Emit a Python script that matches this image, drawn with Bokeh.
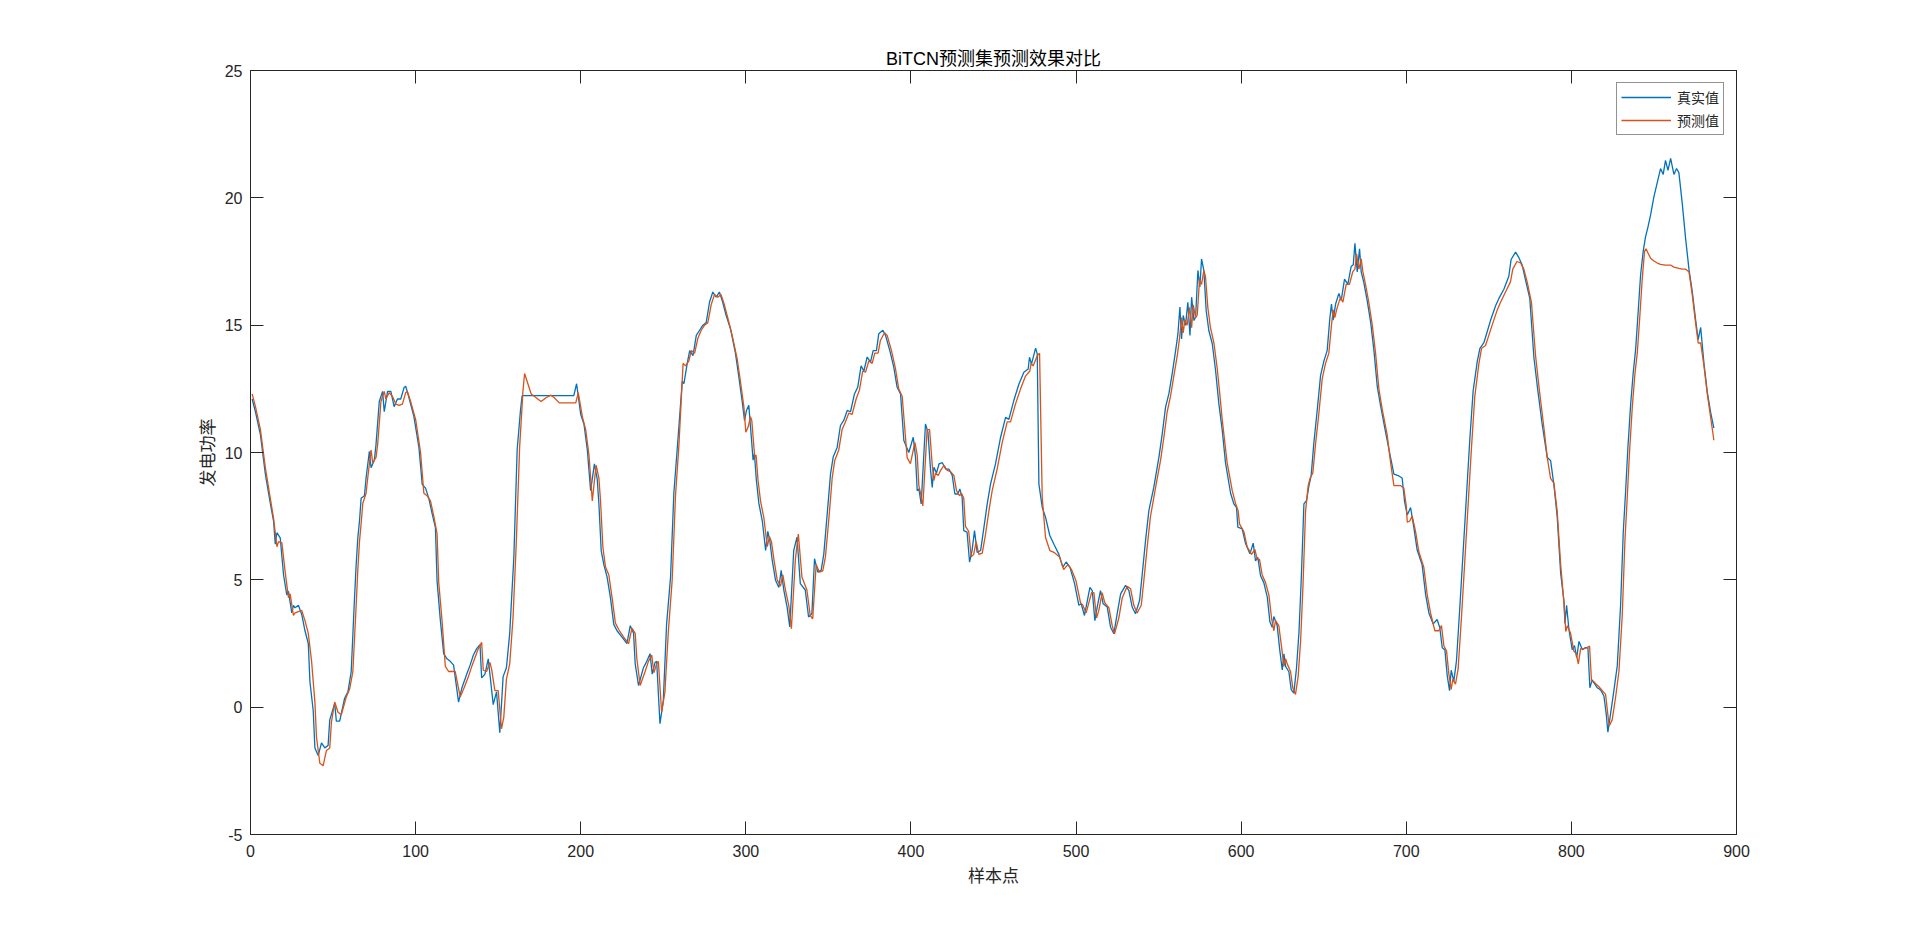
from bokeh.plotting import figure
from bokeh.models import LinearAxis, FixedTicker, Range1d, CustomLabelingPolicy
from bokeh.embed import file_html
from bokeh.resources import INLINE

# ---------------- data ----------------
actual_x = [1, 3, 6, 9, 12, 14, 15, 16, 18, 20, 22, 23, 25, 26, 27, 29, 31, 33, 35, 36,
            38, 39, 41, 43, 45, 47, 48, 51, 52, 54, 57, 59, 61, 63, 64, 65, 66, 67, 69, 70,
            72, 73, 75, 76, 78, 80, 81, 83, 85, 87, 89, 91, 93, 94, 96, 99, 102, 104, 106, 108,
            110, 112, 113, 115, 117, 119, 121, 123, 126, 128, 131, 133, 135, 137, 139, 140, 142, 144, 147, 149,
            151, 153, 155, 157, 159.5, 161.5, 163.5, 164.5, 195.8, 197.5, 200, 202, 204, 206, 208.3, 210, 211, 212.4, 214, 216,
            218, 220, 222, 225, 228, 230, 232, 233, 235, 238, 240, 242, 243.3, 245, 246, 248, 250, 252, 254.4, 256.4,
            258.4, 261.5, 262.5, 264.5, 266, 268, 270, 272, 274, 276, 278, 280, 282, 284, 286, 288,
            290.7, 293.7, 295.7, 297.8, 299.2, 300.4, 301.8, 303.2, 304.4, 305.2, 306.4, 307.9, 310, 312, 313.3, 314.5, 316, 318, 320, 321.4,
            323, 325, 326.6, 329, 331, 333, 336, 338, 340, 341.6, 343.6, 345.6, 347.2, 349.3, 351.3, 352.9, 355.3, 357.3, 359.3, 361.4,
            363.4, 365.8, 367.8, 369.8, 371.5, 373.5, 375.5, 377.1, 379.1, 380.5, 383, 384.6, 387.2, 389.6, 391.6, 393.7,
            395.7, 398.7, 401.4, 402.8, 403.8, 404.8, 406.2, 408.8, 410.3, 411.9, 412.9, 413.9, 415.5, 417, 419, 421, 423, 425, 426.6, 428.4,
            429.6, 431, 432, 434, 435.5, 437, 438.5, 440.1, 442.2, 444.2, 446.2, 448.2, 451.2, 454.3, 457.3, 459.3, 462.3, 465.4, 468.4, 471,
            471.8, 473, 475.5, 476.5, 477.5, 479.5, 481.5, 484.1, 486.6, 489.6, 492, 494, 496.3,
            499.1, 501.7, 503.1, 505.1, 508.4, 509.8, 511.4, 512.8, 514.8, 516.4, 518.9, 520.9, 522.9, 524.9, 527, 530, 532, 534, 536, 538.5,
            540.1, 542.1, 544.1, 547.1, 550.2, 552.2, 554.2, 556.2, 558.2, 560.3, 561.7, 562.9, 563.9, 564.9, 566.3, 567.7, 569, 570, 571.4, 572.4,
            573.8, 575, 576, 577.4, 578.8, 580.4, 582.5, 584.5, 586.5, 588.5, 590.5, 593.6, 595.6, 597.2, 598, 600.6, 602.6, 605.3, 607.3, 608.7,
            610.1, 611.7, 613.7, 615.8, 617.4, 618.8, 619.8, 621.8, 623.4, 624.9, 625.9, 626.9, 628.9, 630.3, 631.9, 633.5, 635, 636.4, 638, 639.6,
            641, 642.4, 644, 646, 648.1, 650.1, 652.1, 653.7, 654.7, 655.7, 657.2, 659.2, 660.6, 662.6, 664.6, 666.6, 667.9, 668.9, 670.3, 671.7,
            672.7, 674.3, 676.3, 678.4, 680.4, 682.4, 684.4, 687.4, 690.5, 692.5, 695.5, 697.5, 699, 700.6, 702.6, 704.6, 706.6, 709.6, 711.7, 713.7,
            716.3, 718.7, 720.3, 721.8, 723.4, 724.8, 726.2, 727.2, 728.8, 730.4, 732.5, 734.5, 736.5, 738.5, 740.5, 743, 744.6, 747, 749, 751,
            754.1, 756.1, 759.1, 762.1, 763.5, 766.2, 768.2, 770.2, 772.2, 774.8, 777.3, 779.7, 782.3, 785.4, 787.4, 789.4, 791.4, 793.5, 795.5, 796.1,
            797.1, 798.5, 800.5, 801.9, 803.2, 804.6, 806.6, 808.6, 810, 811.2, 812.6, 814, 815.7, 817.7, 819.7, 821.1, 822.1, 823.7, 825.8, 827.8,
            829.8, 831.4, 832.8, 834.2, 835.9, 837.5, 838.9, 840.3, 841.9, 843.5, 844.9, 846.4, 848, 850, 852, 854, 855.6, 857, 858.5, 860.1,
            862.1, 863.7, 865.1, 867.1, 869.2, 871.2, 873.2, 875.2, 876.8, 878.3, 880.3, 882.3, 884.3, 886.3]
actual_y = [12.1, 11.6, 10.7, 9.15, 8.0, 7.3, 6.4, 6.85, 6.65, 5.2, 4.4, 4.55, 3.7, 4.0, 3.9, 4.0, 3.65, 3.0, 2.5, 1.0,
            -0.15, -1.6, -1.9, -1.4, -1.6, -1.5, -0.5, 0.15, -0.55, -0.55, 0.35, 0.6, 1.4, 4.3, 5.6, 6.65, 7.3, 8.2, 8.3, 9.0,
            10.05, 9.4, 9.7, 10.3, 12.0, 12.4, 11.6, 12.4, 12.4, 11.8, 12.1, 12.1, 12.55, 12.6, 12.15, 11.4, 10.2, 8.75, 8.6, 8.2,
            7.6, 7.05, 4.95, 3.4, 2.1, 1.9, 1.8, 1.65, 0.2, 0.75, 1.3, 1.65, 2.05, 2.3, 2.45, 1.15, 1.3, 1.9, 0.1, 0.6,
            -1.0, 1.2, 1.55, 2.9, 5.9, 10.1, 11.65, 12.23, 12.23, 12.7, 11.5, 11.1, 10.1, 8.5, 9.55, 8.95, 8.0, 6.15, 5.6, 5.1,
            4.3, 3.25, 3.0, 2.75, 2.5, 3.2, 2.9, 1.7, 0.85, 1.55, 1.8, 2.1, 1.3, 1.75, 1.8, -0.65, 0.25, 3.25, 5.1, 8.4,
            10.1, 12.8, 12.7, 13.5, 14.0, 13.8, 14.6, 14.8, 15.0, 15.1, 15.9, 16.3, 16.1, 16.3, 15.9, 15.4,
            14.86, 13.9, 13.0, 12.0, 11.26, 11.65, 11.85, 10.7, 9.7, 9.95, 8.9, 8.0, 7.3, 6.15, 6.9, 6.55, 5.76, 4.98, 4.7, 5.37,
            4.6, 3.93, 3.15, 6.15, 6.68, 4.85, 4.6, 3.54, 3.67, 5.83, 5.3, 5.37, 6.0, 7.6, 9.16, 9.82, 10.2, 11.06, 11.26, 11.65,
            11.6, 12.3, 12.57, 13.4, 13.2, 13.75, 13.55, 14.0, 14.0, 14.66, 14.8, 14.6, 14.0, 13.35, 12.57, 12.3,
            10.47, 10.0, 10.6, 9.8, 8.5, 8.57, 7.98, 11.12, 10.8, 9.29, 8.63, 9.42, 9.2, 9.55, 9.6, 9.35, 9.35, 9.1, 8.37, 8.37,
            8.57, 8.24, 6.93, 6.87, 5.7, 6.15, 6.93, 6.08, 6.15, 7.06, 7.98, 8.76, 9.55, 10.6, 11.38, 11.3, 12.04, 12.69, 13.15, 13.28,
            13.74, 13.47, 14.1, 13.87, 8.76, 7.85, 7.46, 6.74, 6.4, 6.0, 5.5, 5.7, 5.5,
            4.85, 4.0, 4.06, 3.6, 4.7, 4.58, 3.4, 3.93, 4.58, 4.06, 3.93, 3.14, 2.88, 3.67, 4.45, 4.78, 4.58, 3.93, 3.67, 4.2,
            5.24, 6.55, 7.72, 8.64, 9.82, 10.73, 11.78, 12.3, 13.09, 14.0, 14.66, 15.71, 14.46, 15.38, 14.99, 15.9, 14.6, 16.1, 15.18, 15.31,
            17.15, 16.5, 17.6, 17.15, 15.58, 14.79, 14.27, 13.22, 11.91, 10.9, 9.6, 8.4, 7.98, 7.84, 7.07, 7.0, 6.44, 6.02, 6.44, 5.74,
            5.88, 5.17, 4.89, 4.33, 3.35, 3.14, 3.56, 3.21, 2.23, 1.46, 2.09, 1.6, 1.39, 0.69, 0.55, 1.53, 2.93, 5.03, 7.98, 8.12,
            8.68, 9.1, 10.36, 11.62, 13.03, 13.59, 14.01, 15.27, 15.83, 15.2, 15.83, 16.25, 15.97, 16.81, 16.6, 17.3, 17.37, 18.21, 17.09, 18.0,
            17.09, 16.67, 15.97, 15.13, 14.01, 12.61, 11.85, 10.82, 9.8, 9.15, 9.08, 9.0, 8.06, 7.55, 7.84, 7.05, 6.17, 5.59, 4.43, 3.7,
            3.27, 3.44, 3.12, 2.33, 2.25, 1.24, 0.65, 1.45, 1.02, 1.82, 3.99, 6.17, 8.35, 10.53, 12.42, 13.58, 14.09, 14.31, 14.74, 15.18,
            15.76, 16.05, 16.41, 16.92, 17.58, 17.87, 17.65, 17.36, 16.78, 16.05, 13.73, 12.42, 11.11, 9.8, 9.69, 8.74, 7.48, 5.26, 4.16, 3.29,
            4.0, 3.05, 2.26, 2.42, 1.94, 2.58, 2.26, 2.34, 2.34, 0.76, 1.07, 0.92, 0.76, 0.68, 0.44, -0.27, -0.98, -0.27, 0.68, 1.63,
            4.0, 6.85, 8.43, 10.17, 11.9, 13.17, 14.04, 15.38, 16.96, 17.91, 18.47, 18.86, 19.34, 20.05, 20.6, 21.15, 20.92, 21.47, 21.08, 21.55,
            20.92, 21.15, 20.99, 19.81, 18.39, 17.2, 16.33, 15.23, 14.43, 14.91, 13.49, 12.38, 11.59, 10.96]

pred_x = [1, 3, 6, 9, 12, 14, 16, 17, 19, 21, 23, 24, 26, 27, 29, 31, 33, 35, 37, 39,
          40, 42, 44, 46, 48, 49, 51, 53, 55, 58, 60, 62, 64, 65, 66, 67, 68, 70, 71, 73,
          74, 76, 77, 79, 81, 82, 84, 86, 88, 90, 92, 94, 95, 97, 100, 103, 105, 107, 109, 111,
          113, 114, 116, 118, 120, 122, 124, 127, 129, 132, 134, 136, 138, 140, 141, 143, 145, 146, 148, 150,
          152, 153.4, 155, 157, 159, 161, 163, 165, 166, 168, 170, 172, 176, 179, 182, 184, 187, 197, 198.5, 201,
          203, 205, 207, 209.3, 211, 212, 213.4, 215, 217, 219, 221, 223, 226, 229, 231, 233, 234, 236, 239, 241,
          243, 244.3, 246, 247, 249, 251, 253, 255.4, 257.4, 259.4, 262, 263.5, 265.5, 267, 269, 271, 273, 275, 277, 279,
          281, 283, 285, 287, 289, 291.7, 294.7, 296.7, 298.8, 300, 301.4, 302.8, 303.6, 305.4, 306.2, 307.4, 308.9, 311, 313, 314.3,
          315.5, 317, 319, 321, 322.4, 324, 326, 327.6, 330, 331.8, 334, 337, 339, 340.5, 342.6, 344.6, 346.6, 348.2, 350.3, 352.3,
          353.9, 356.3, 358.3, 360.3, 362.4, 364.4, 366.8, 368.8, 370.8, 372.5, 374.5, 376.5, 378.1, 380.1, 381.5, 384, 385.6, 388.2, 390.6, 392.6,
          394.7, 396.7, 397.7, 399.7, 402.4, 403.8, 404.8, 405.8, 407.2, 409.8, 411.3, 412.9, 413.9, 414.9, 416.5, 418, 420, 422, 424, 426,
          427.6, 429.4, 430.6, 432, 433, 435, 436.5, 438, 439.5, 441.1, 443.2, 445.2, 447.2, 449.2, 452.2, 455.3, 458.3, 460.3, 463.3, 466.4,
          469.4, 472, 472.8, 474, 476.5, 477.9, 479.5, 481.5, 484.1, 486.6, 490, 492.5, 495, 497.3, 500, 502.7, 504.1, 506.1, 509.4, 510.8,
          512.4, 513.8, 515.8, 517.4, 519.9, 521.9, 523.3, 525.9, 528, 531, 533, 535, 537, 539.5, 541.1, 543.1, 545.1, 548.1, 551.2, 553.2,
          555.2, 557.2, 559.2, 561.3, 562.7, 563.9, 564.9, 565.9, 567.3, 568.7, 570, 571, 572.4, 573.4, 574.8, 576, 577.4, 578.4, 579.8, 581.4,
          583.5, 585.5, 587.5, 588.5, 591.5, 594.6, 596.6, 598.2, 599, 601.6, 603.6, 606.3, 608.3, 609.7, 611.1, 612.7, 614.7, 616.8, 618.4, 619.8,
          620.8, 622.8, 624.4, 625.9, 626.9, 627.9, 629.9, 631.3, 632.9, 634.5, 636, 637.4, 639, 640.6, 641.8, 643.4, 645, 647, 649.1, 651.1,
          653.1, 654.7, 655.7, 656.7, 658.2, 660.2, 661.6, 663.6, 665.6, 667.6, 668.9, 669.9, 671.3, 672.7, 673.7, 675.3, 677.3, 679.4, 681.4, 683.4,
          685.4, 688.4, 690.5, 692.5, 694, 696.5, 698.5, 700, 700.6, 702, 703.6, 705.6, 707.6, 710.6, 712.7, 714.7, 717.3, 719.7, 721.3, 722.8,
          724.4, 725.8, 727.2, 728.2, 729.8, 731.4, 733.5, 735.5, 737.5, 739.5, 741.5, 744, 745.6, 748, 750, 752, 755.1, 757.1, 760.1, 763.1,
          764.5, 767, 769.2, 771.2, 773.2, 775.8, 778.3, 780.7, 783.3, 785.4, 787.4, 789.4, 791.4, 793.5, 795.5, 796.6, 797.6, 799.5, 801.5, 802.9,
          804.2, 805.6, 807.6, 809.6, 811, 812.2, 813.6, 815, 816.7, 818.7, 820.7, 822.1, 822.9, 824.7, 826.8, 828.8, 830.8, 832.4, 833.8, 835.2,
          836.9, 838.5, 839.9, 841.3, 842.9, 844.3, 845.2, 846.4, 848, 850, 852, 854, 857, 860.1, 862.1, 865.1, 867.1, 869.2, 871.2, 873.2,
          875.2, 876.8, 878.3, 880.3, 882.3, 884.3, 886.3]
pred_y = [12.3, 11.8, 10.9, 9.4, 8.2, 7.4, 6.3, 6.5, 6.45, 5.3, 4.3, 4.45, 3.6, 3.7, 3.75, 3.8, 3.4, 2.9, 1.8, 0.2,
          -1.2, -2.2, -2.3, -1.7, -1.6, -0.6, 0.2, -0.2, -0.3, 0.4, 0.7, 1.4, 4.0, 5.4, 6.5, 7.2, 8.0, 8.4, 9.0, 10.1,
          9.6, 9.8, 10.3, 12.0, 12.4, 12.1, 12.35, 12.2, 11.9, 11.85, 11.9, 12.35, 12.4, 12.0, 11.3, 10.0, 8.4, 8.3, 8.1, 7.5,
          6.8, 4.9, 3.4, 1.6, 1.4, 1.4, 1.4, 0.4, 0.7, 1.2, 1.6, 1.95, 2.3, 2.55, 1.45, 1.4, 1.76, 1.5, 0.65, 0.65,
          -0.85, -0.4, 1.1, 1.7, 3.5, 6.5, 10.2, 12.4, 13.1, 12.7, 12.3, 12.2, 12.0, 12.15, 12.25, 12.15, 11.95, 11.95, 12.35, 11.4,
          10.9, 9.9, 8.1, 9.5, 9.0, 8.1, 6.3, 5.5, 5.2, 4.3, 3.3, 3.05, 2.75, 2.5, 3.1, 2.9, 1.9, 0.85, 1.4, 1.8,
          2.05, 1.35, 1.7, 1.8, -0.2, 0.6, 2.9, 5.0, 8.3, 10.2, 13.5, 13.4, 13.6, 14.0, 13.9, 14.5, 14.8, 15.0, 15.1, 15.8,
          16.2, 16.1, 16.2, 15.8, 15.3, 14.6, 13.7, 12.8, 11.8, 10.8, 11.0, 11.4, 11.26, 9.8, 9.9, 8.9, 8.1, 7.4, 6.3, 6.7,
          6.5, 5.8, 5.0, 4.75, 5.2, 4.6, 4.0, 3.08, 5.8, 6.8, 5.1, 4.6, 3.6, 3.47, 5.6, 5.3, 5.35, 5.9, 7.4, 9.0,
          9.7, 10.1, 10.9, 11.2, 11.55, 11.5, 12.1, 12.45, 13.2, 13.15, 13.6, 13.5, 13.9, 13.9, 14.4, 14.7, 14.6, 14.0, 13.3, 12.5,
          12.2, 10.6, 9.8, 9.56, 10.4, 9.9, 8.7, 8.4, 7.9, 10.9, 10.9, 9.5, 8.9, 9.2, 9.1, 9.3, 9.5, 9.3, 9.25, 9.1,
          8.5, 8.3, 8.4, 8.2, 7.1, 6.9, 5.9, 6.0, 6.5, 6.0, 6.05, 6.8, 7.7, 8.5, 9.35, 10.4, 11.2, 11.2, 11.9, 12.5,
          13.0, 13.2, 13.5, 13.4, 13.8, 13.9, 8.24, 6.67, 6.15, 6.08, 5.9, 5.4, 5.6, 5.4, 4.95, 4.1, 4.0, 3.7, 4.5, 4.5,
          3.5, 3.8, 4.5, 4.1, 3.9, 3.2, 2.88, 3.5, 4.3, 4.75, 4.65, 4.0, 3.7, 4.0, 5.0, 6.3, 7.5, 8.6, 9.7, 10.6,
          11.6, 12.2, 13.0, 13.8, 14.5, 15.3, 14.7, 15.2, 15.0, 15.7, 14.9, 15.8, 15.3, 15.4, 16.8, 16.6, 17.15, 16.9, 15.7, 14.9,
          14.3, 13.3, 12.0, 11.3, 9.6, 8.5, 8.0, 7.7, 7.2, 6.9, 6.3, 6.0, 6.2, 5.8, 5.8, 5.2, 4.9, 4.4, 3.5, 3.0,
          3.4, 3.2, 2.4, 1.6, 1.9, 1.7, 1.4, 0.75, 0.5, 1.2, 2.6, 4.7, 7.7, 8.7, 9.0, 9.2, 10.3, 11.5, 12.9, 13.5,
          13.9, 15.0, 15.6, 15.3, 15.7, 16.1, 15.9, 16.6, 16.6, 17.1, 17.2, 17.8, 17.2, 17.6, 17.1, 16.6, 15.9, 15.0, 13.9, 12.5,
          11.7, 10.7, 9.6, 8.7, 8.7, 8.7, 8.6, 7.9, 7.26, 7.3, 7.5, 6.9, 6.1, 5.5, 4.4, 3.7, 3.0, 3.0, 3.2, 2.4,
          2.2, 1.3, 0.7, 1.1, 0.9, 1.5, 3.6, 5.8, 8.0, 10.2, 12.2, 13.5, 14.09, 14.2, 14.6, 15.0, 15.6, 15.9, 16.3, 16.7,
          17.2, 17.5, 17.45, 17.2, 16.7, 15.9, 13.8, 12.4, 11.0, 9.8, 8.98, 8.8, 7.7, 5.6, 4.1, 2.97, 3.2, 2.9, 2.2, 2.1,
          1.7, 2.3, 2.3, 2.34, 2.4, 1.0, 1.0, 0.9, 0.8, 0.65, 0.5, -0.3, -0.74, -0.5, 0.4, 1.4, 3.6, 6.5, 8.2, 10.0,
          11.8, 13.1, 13.9, 15.2, 16.8, 17.9, 18.0, 17.83, 17.63, 17.52, 17.44, 17.39, 17.36, 17.36, 17.28, 17.23, 17.2, 17.2, 17.1, 16.2,
          15.1, 14.3, 14.3, 13.4, 12.3, 11.4, 10.48]

x_ticks = [0, 100, 200, 300, 400, 500, 600, 700, 800, 900]
x_tick_labels = ["0", "100", "200", "300", "400", "500", "600", "700", "800", "900"]
y_ticks = [-5, 0, 5, 10, 15, 20, 25]
y_tick_labels = ["-5", "0", "5", "10", "15", "20", "25"]

title_text = "BiTCN预测集预测效果对比"
x_label = "样本点"
y_label = "发电功率"
series_names = ["真实值", "预测值"]
series_colors = ["#0072BD", "#D95319"]

# ---------------- figure ----------------
W, H = 1900, 920
FL, FT, FR, FB = 250, 70, 1736, 834   # frame edges on the page
AX = "#262626"
LATIN = "Liberation Sans, Noto Sans CJK SC"
CJK = "Noto Sans CJK SC"

p = figure(width=W, height=H, output_backend="svg", toolbar_location=None,
           x_range=Range1d(0, 900), y_range=Range1d(-5, 25),
           min_border_left=FL, min_border_right=W - FR,
           min_border_top=FT, min_border_bottom=H - FB)
p.background_fill_color = "white"
p.border_fill_color = "white"
p.xgrid.grid_line_color = None
p.ygrid.grid_line_color = None
p.outline_line_color = AX
p.outline_line_width = 1
p.outline_line_alpha = 1

p.title.text = title_text
p.title.align = "center"
p.title.text_font = LATIN
p.title.text_font_size = "18px"
p.title.text_font_style = "normal"
p.title.text_color = "#000000"
p.title.standoff = 3

hide_labels = CustomLabelingPolicy(code="for (const i of indices) { indices.unset(i) }\nreturn indices")


def style_axis(ax, ticks, labels, show):
    ax.ticker = FixedTicker(ticks=ticks)
    ax.major_tick_in = 13
    ax.major_tick_out = 0
    ax.minor_tick_line_color = None
    ax.axis_line_color = AX
    ax.major_tick_line_color = AX
    if show:
        ax.major_label_overrides = {t: l for t, l in zip(ticks, labels)}
        ax.major_label_text_font = LATIN
        ax.major_label_text_font_size = "16px"
        ax.major_label_text_color = AX
    else:
        ax.major_label_policy = hide_labels
        ax.major_label_text_font_size = "0px"
        ax.major_label_standoff = 0


xa = p.xaxis[0]
ya = p.yaxis[0]
style_axis(xa, x_ticks, x_tick_labels, True)
style_axis(ya, y_ticks, y_tick_labels, True)
xa.major_label_standoff = 10
ya.major_label_standoff = 8
xa.axis_label = x_label
ya.axis_label = y_label
for ax in (xa, ya):
    ax.axis_label_text_font = CJK
    ax.axis_label_text_font_size = "17px"
    ax.axis_label_text_font_style = "normal"
    ax.axis_label_text_color = AX
xa.axis_label_standoff = 2
ya.axis_label_standoff = 3

top_ax = LinearAxis()
right_ax = LinearAxis()
style_axis(top_ax, x_ticks, x_tick_labels, False)
style_axis(right_ax, y_ticks, y_tick_labels, False)
p.add_layout(top_ax, "above")
p.add_layout(right_ax, "right")

p.line(actual_x, actual_y, line_color=series_colors[0], line_width=1.3,
       legend_label=series_names[0])
p.line(pred_x, pred_y, line_color=series_colors[1], line_width=1.3,
       legend_label=series_names[1])

leg = p.legend[0]
leg.location = "top_right"
leg.margin = 12
leg.padding = 4
leg.spacing = 3
leg.glyph_width = 50
leg.glyph_height = 16
leg.label_height = 16
leg.label_standoff = 6
leg.label_text_font = CJK
leg.label_text_font_size = "14px"
leg.label_text_color = AX
leg.border_line_color = AX
leg.border_line_width = 1
leg.background_fill_color = "white"
leg.background_fill_alpha = 1

open("out.html", "w").write(file_html(p, INLINE))
